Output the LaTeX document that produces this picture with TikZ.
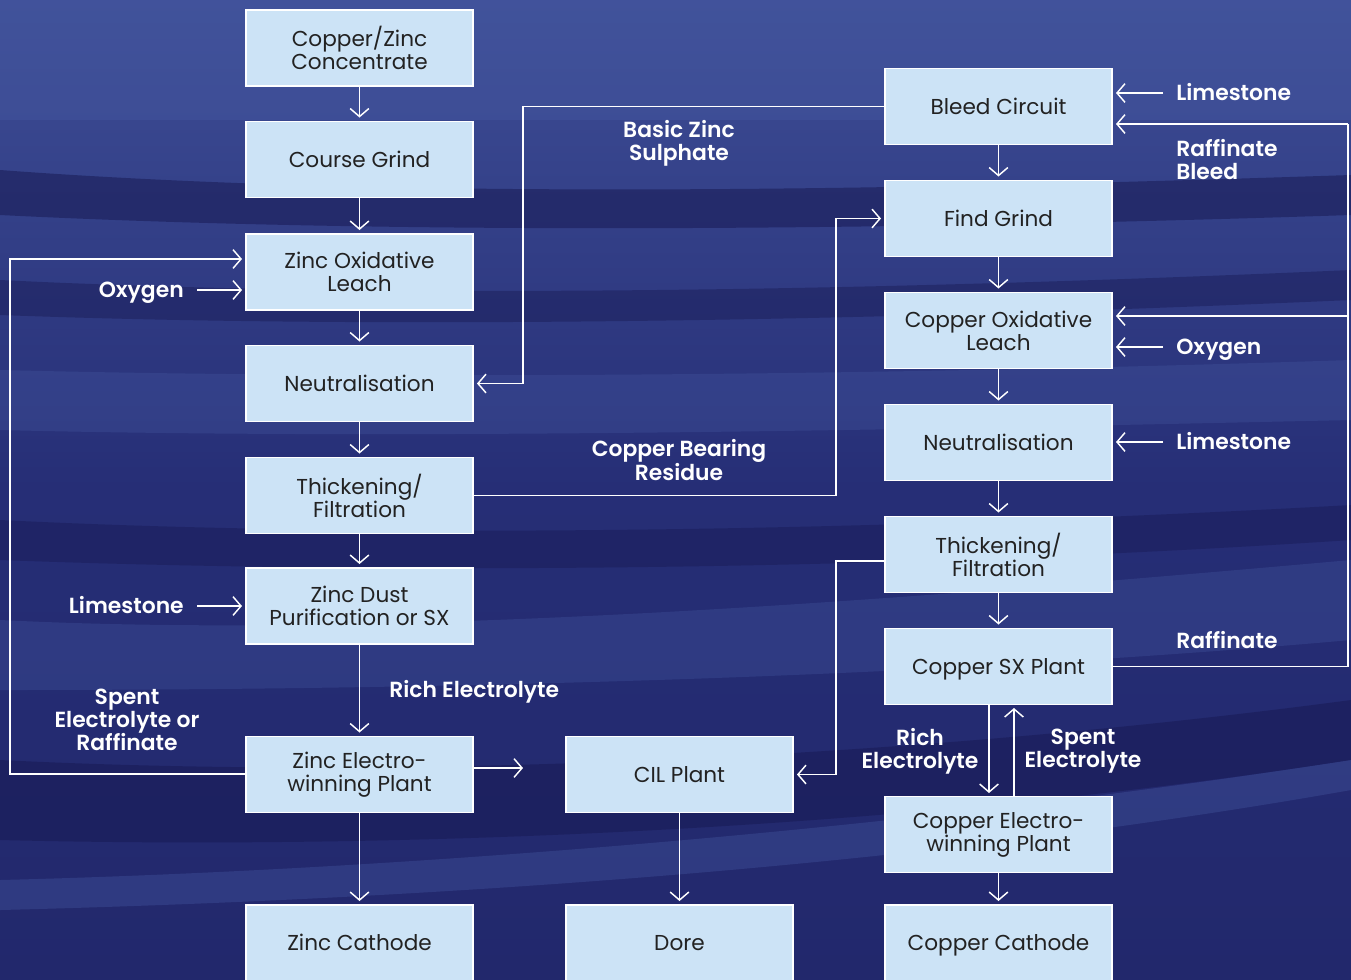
\documentclass[tikz,border=0pt]{standalone}
\usepackage{fontspec}
\setmainfont{Poppins}[BoldFont={Poppins SemiBold}]
\usetikzlibrary{arrows.meta,calc}
\definecolor{bgtop}{RGB}{62,78,150}
\definecolor{bgmid}{RGB}{38,46,118}
\definecolor{bgbot}{RGB}{34,40,108}
\definecolor{bgdark}{RGB}{24,26,84}
\definecolor{bglight}{RGB}{72,92,165}
\definecolor{boxfill}{RGB}{204,227,246}
\definecolor{boxtext}{RGB}{34,34,34}
\tikzset{
  box/.style={draw=white, line width=1.2pt, fill=boxfill, text=boxtext,
    minimum width=170.25pt, minimum height=57pt, inner sep=0pt, outer sep=0pt,
    align=center, font=\fontsize{16.2}{17.25}\selectfont},
  lbl/.style={text=white, align=center, inner sep=0pt, font=\fontsize{16.4}{17.25}\selectfont\bfseries},
  oneline/.style={text height=11.4pt, text depth=0pt},
  conn/.style={draw=white, line width=1.1pt},
  arr/.style={conn, -{Straight Barb[length=6pt,width=14pt,line width=1.1pt]}, shorten >=3pt},
}
\begin{document}
\begin{tikzpicture}[x=0.75pt,y=-0.75pt]
\useasboundingbox (0,0) rectangle (1351,979);
\clip (0,0) rectangle (1351,979);
% background
\shade[top color=bgtop, bottom color=bgbot, middle color=bgmid] (0,0) rectangle (1351,979);
\fill[bglight, opacity=0.35] (0,0) rectangle (1351,120);
\fill[bgdark, opacity=0.55] (0,170) .. controls (400,200) and (900,190) .. (1351,175) -- (1351,215) .. controls (900,230) and (400,235) .. (0,215) -- cycle;
\fill[bgdark, opacity=0.45] (0,280) .. controls (400,300) and (900,290) .. (1351,270) -- (1351,300) .. controls (900,320) and (400,330) .. (0,315) -- cycle;
\fill[bglight, opacity=0.30] (0,370) .. controls (400,380) and (900,375) .. (1351,360) -- (1351,420) .. controls (900,430) and (400,440) .. (0,430) -- cycle;
\fill[bgdark, opacity=0.45] (0,520) .. controls (400,540) and (900,530) .. (1351,505) -- (1351,540) .. controls (900,570) and (400,575) .. (0,560) -- cycle;
\fill[bglight, opacity=0.30] (0,620) .. controls (400,640) and (900,600) .. (1351,560) -- (1351,640) .. controls (900,680) and (400,690) .. (0,690) -- cycle;
\fill[bgdark, opacity=0.55] (0,760) .. controls (400,780) and (900,760) .. (1351,700) -- (1351,760) .. controls (900,830) and (400,850) .. (0,840) -- cycle;
\fill[bglight, opacity=0.35] (0,880) .. controls (400,870) and (900,830) .. (1351,760) -- (1351,790) .. controls (900,870) and (400,900) .. (0,910) -- cycle;

% left column
\node[box] (cz) at (359.5,48) {Copper/Zinc\\Concentrate};
\node[box, oneline] (cg) at (359.5,159.5) {Course Grind};
\node[box] (zol) at (359.5,272) {Zinc Oxidative\\Leach};
\node[box, oneline] (zn) at (359.5,383.5) {Neutralisation};
\node[box] (ztf) at (359.5,495.5) {Thickening/\\Filtration};
\node[box] (zdp) at (359.5,606) {Zinc Dust\\Purification or SX};
\node[box] (zew) at (359.5,774.5) {Zinc Electro-\\winning Plant};
\node[box, oneline] (zc) at (359.5,943) {Zinc Cathode};
% middle column
\node[box, oneline] (cil) at (679.5,774.5) {CIL Plant};
\node[box, oneline] (dore) at (679.5,943) {Dore};
% right column
\node[box, oneline] (bc) at (998.5,106.5) {Bleed Circuit};
\node[box, oneline] (fg) at (998.5,218.5) {Find Grind};
\node[box] (col) at (998.5,330.5) {Copper Oxidative\\Leach};
\node[box, oneline] (cn) at (998.5,442.5) {Neutralisation};
\node[box] (ctf) at (998.5,554.5) {Thickening/\\Filtration};
\node[box, oneline] (csx) at (998.5,666.5) {Copper SX Plant};
\node[box] (cew) at (998.5,834.5) {Copper Electro-\\winning Plant};
\node[box, oneline] (cc) at (998.5,943) {Copper Cathode};

% labels
\node[lbl] (lbzs) at (679,143.5) {Basic Zinc\\Sulphate};
\node[lbl] (lcbr) at (679,460) {Copper Bearing\\Residue};
\node[lbl, oneline, anchor=east] (lox1) at (184,290) {Oxygen};
\node[lbl, oneline, anchor=east] (lls1) at (184,606) {Limestone};
\node[lbl] (lser) at (127,719.5) {Spent\\Electrolyte or\\Raffinate};
\node[lbl, oneline, anchor=west] (lre1) at (389,690) {Rich Electrolyte};
\node[lbl, oneline, anchor=west] (lls2) at (1176,93) {Limestone};
\node[lbl, anchor=west, align=left] (lrb) at (1176,160) {Raffinate\\Bleed};
\node[lbl, oneline, anchor=west] (lox2) at (1176,347) {Oxygen};
\node[lbl, oneline, anchor=west] (lls3) at (1176,442) {Limestone};
\node[lbl, oneline, anchor=west] (lraf) at (1176,641) {Raffinate};
\node[lbl] (lre2) at (920,751.5) {Rich\\Electrolyte};
\node[lbl] (lse) at (1083,751.5) {Spent\\Electrolyte};

% coordinates for bends and free ends
\coordinate (o1) at (197,290);
\coordinate (l1) at (197,606);
\coordinate (l2) at (1163,93);
\coordinate (o2) at (1163,347);
\coordinate (l3) at (1163,442);
\coordinate (ewout) at (527,768);
\coordinate (ewsrc) at (473,768);
\coordinate (b1) at (523,107);
\coordinate (b2) at (836,495.5);
\coordinate (b3) at (836,561);
\coordinate (ctfw) at (885,561);
\coordinate (loopL) at (10,774);
\coordinate (loopLt) at (10,259);
\coordinate (zolin) at (246,259);
\coordinate (rloop) at (1348,666.5);
\coordinate (bcin) at (1112,124);
\coordinate (colin) at (1112,316);
\coordinate (rtop) at (1348,124);
\coordinate (rmid) at (1348,316);
\coordinate (sxd) at (989,704);
\coordinate (ewd) at (989,797);
\coordinate (ewu) at (1014,797);
\coordinate (sxu) at (1014,704);

% vertical flows
\draw[arr] (cz.south) -- (cg.north);
\draw[arr] (cg.south) -- (zol.north);
\draw[arr] (zol.south) -- (zn.north);
\draw[arr] (zn.south) -- (ztf.north);
\draw[arr] (ztf.south) -- (zdp.north);
\draw[arr] (zdp.south) -- (zew.north);
\draw[arr] (zew.south) -- (zc.north);
\draw[arr] (cil.south) -- (dore.north);
\draw[arr] (bc.south) -- (fg.north);
\draw[arr] (fg.south) -- (col.north);
\draw[arr] (col.south) -- (cn.north);
\draw[arr] (cn.south) -- (ctf.north);
\draw[arr] (ctf.south) -- (csx.north);
\draw[arr] (sxd) -- (ewd);
\draw[arr] (ewu) -- (sxu);
\draw[arr] (cew.south) -- (cc.north);

% side inputs
\draw[arr] (o1) -- (zol.west |- o1);
\draw[arr] (l1) -- (zdp.west |- l1);
\draw[arr] (l2) -- (bc.east |- l2);
\draw[arr] (o2) -- (col.east |- o2);
\draw[arr] (l3) -- (cn.east |- l3);
\draw[arr] (ewsrc) -- (ewout);

% loops
\draw[arr] (bc.west) -| (b1) |- (zn.east);
\draw[arr] (ztf.east |- b2) -- (b2) |- (fg.west);
\draw[arr] (ctfw) -- (b3) |- (cil.east);
\draw[arr] (zew.west |- loopL) -- (loopL) -- (loopLt) -- (zolin);
\draw[conn] (csx.east) -- (rloop) -- (rtop);
\draw[arr] (rtop) -- (bcin);
\draw[arr] (rmid) -- (colin);
\end{tikzpicture}
\end{document}
